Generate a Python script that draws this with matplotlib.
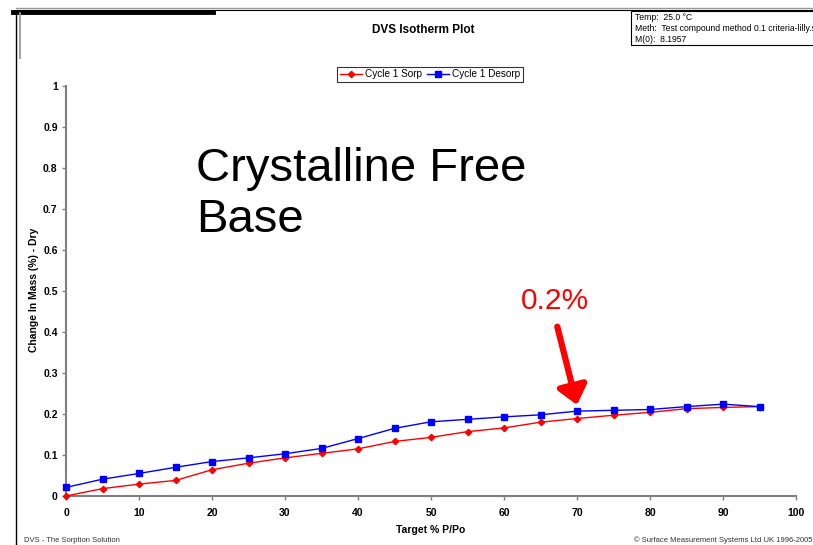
import matplotlib.pyplot as plt
from matplotlib.lines import Line2D
from matplotlib.patches import Rectangle

plt.rcParams['font.family'] = ['Liberation Sans', 'DejaVu Sans']

target_rh = [0, 5, 10, 15, 20, 25, 30, 35, 40, 45, 50, 55, 60, 65, 70, 75, 80, 85, 90, 95]
sorp = [0.000, 0.018, 0.029, 0.038, 0.064, 0.080, 0.093, 0.104, 0.115, 0.133, 0.143,
        0.157, 0.166, 0.180, 0.189, 0.197, 0.204, 0.213, 0.216, 0.218]
desorp = [0.021, 0.041, 0.055, 0.070, 0.084, 0.093, 0.103, 0.116, 0.140, 0.165, 0.181,
          0.187, 0.193, 0.198, 0.207, 0.209, 0.211, 0.218, 0.224, 0.218]
x_ticks = [0, 10, 20, 30, 40, 50, 60, 70, 80, 90, 100]
y_ticks = [0, 0.1, 0.2, 0.3, 0.4, 0.5, 0.6, 0.7, 0.8, 0.9, 1]
y_tick_labels = ['0', '0.1', '0.2', '0.3', '0.4', '0.5', '0.6', '0.7', '0.8', '0.9', '1']
info_lines = ["Temp:  25.0 °C", "Meth:  Test compound method 0.1 criteria-lilly.sao", "M(0):  8.1957"]

W, H = 813, 545
fig = plt.figure(figsize=(W / 100, H / 100), dpi=100)


def fx(px):
    return px / W


def fy(py):
    return 1 - py / H


# page frame lines
fig.add_artist(Line2D([fx(16), 1], [fy(8), fy(8)], color='#999999', lw=1))
fig.add_artist(Line2D([fx(16), 1], [fy(10), fy(10)], color='black', lw=0.8))
fig.add_artist(Line2D([fx(13), fx(213)], [fy(12), fy(12)], color='black', lw=3.5))
fig.add_artist(Line2D([fx(16), fx(16)], [fy(12), 0], color='black', lw=1))
fig.add_artist(Line2D([fx(20), fx(20)], [fy(13), fy(58)], color='#999999', lw=1.3))

fig.text(fx(423), fy(30), "DVS Isotherm Plot", ha='center', va='center',
         fontsize=8.5, fontweight='bold')

# info box
fig.add_artist(Rectangle((fx(631), fy(45)), fx(200), (45 - 11) / H,
                         transform=fig.transFigure, fill=False, ec='black', lw=0.8))
for i, line in enumerate(info_lines):
    fig.text(fx(635), fy(17.5 + i * 11), line, ha='left', va='center', fontsize=6.2)

ax = fig.add_axes([fx(66), fy(496), (796 - 66) / W, (496 - 86) / H])
ax.plot(target_rh, sorp, color='red', lw=1, marker='D', ms=3.2, label='Cycle 1 Sorp',
        clip_on=False, zorder=3)
ax.plot(target_rh, desorp, color='blue', lw=1, marker='s', ms=5, label='Cycle 1 Desorp',
        clip_on=False, zorder=3)

ax.set_xlim(0, 100)
ax.set_ylim(0, 1)
ax.set_xticks(x_ticks)
ax.set_yticks(y_ticks)
ax.set_yticklabels(y_tick_labels)
for lbl in ax.get_xticklabels() + ax.get_yticklabels():
    lbl.set_fontweight('bold')
ax.tick_params(axis='both', direction='out', length=3, width=1, color='#808080',
               labelsize=7.5)
ax.tick_params(axis='x', pad=5.5)
ax.tick_params(axis='y', pad=3)
for side in ['top', 'right']:
    ax.spines[side].set_visible(False)
for side in ['left', 'bottom']:
    ax.spines[side].set_color('#808080')
    ax.spines[side].set_linewidth(1.5)

ax.set_xlabel("Target % P/Po", fontsize=7.5, fontweight='bold')
ax.set_ylabel("Change In Mass (%) - Dry", fontsize=7.5, fontweight='bold')
ax.xaxis.set_label_coords((431 - 66) / 730, -(525 - 496) / 410)
ax.yaxis.set_label_coords(-(66 - 39) / 730, (496 - 290) / 410)

leg = fig.legend(loc='center', bbox_to_anchor=(fx(430), fy(74)), ncol=2, fontsize=7.2,
                 frameon=True, fancybox=False, edgecolor='black', handlelength=2.2,
                 handletextpad=0.3, columnspacing=0.5, borderpad=0.25)
leg.get_frame().set_linewidth(0.8)

ax.text(17.8, 0.735, "Crystalline Free\nBase", fontsize=34, ha='left', va='center',
        linespacing=1.2)

ax.annotate("", xy=(70, 0.222), xytext=(67.3, 0.413),
            arrowprops=dict(arrowstyle='-|>,head_length=1.1,head_width=0.9',
                            color='red', lw=4.5, shrinkA=0, shrinkB=0))
ax.text(67.0, 0.475, "0.2%", color='red', fontsize=21.5, ha='center', va='center')

fig.text(fx(24), fy(540), "DVS - The Sorption Solution", fontsize=5.5, ha='left',
         va='center', color='#333333')
fig.text(fx(812), fy(540), "© Surface Measurement Systems Ltd UK 1996-2005", fontsize=5.5,
         ha='right', va='center', color='#333333')

fig.savefig('out.png', dpi=100)
